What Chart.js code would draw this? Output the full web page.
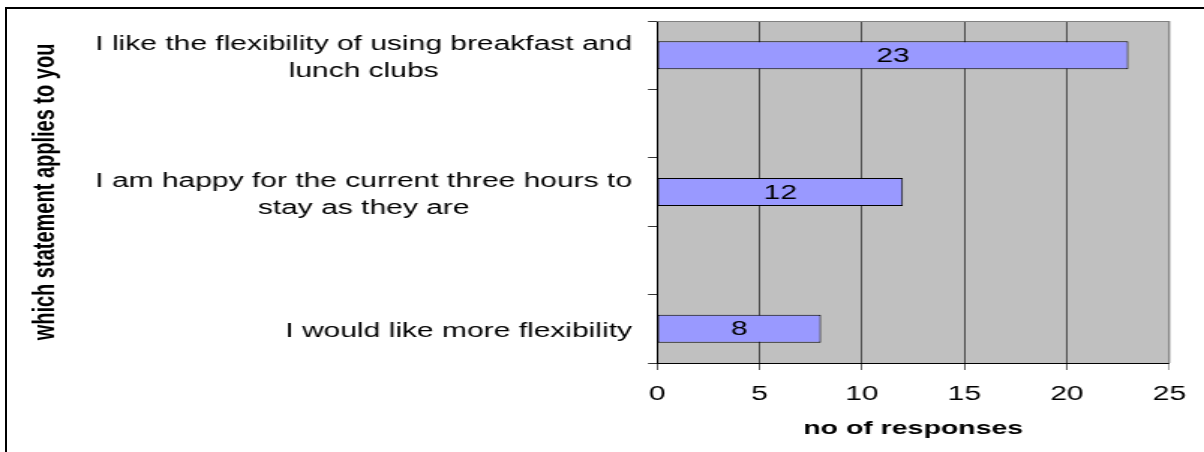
<!DOCTYPE html>
<html><head><meta charset="utf-8">
<script src="https://cdn.jsdelivr.net/npm/chart.js@4.4.1/dist/chart.umd.min.js"></script>
<style>
html,body{margin:0;padding:0;background:#fff;overflow:hidden}
#wrap{position:relative;width:1204px;height:452px;overflow:hidden}
#c{position:absolute;left:0;top:0;width:1204px;height:452px}
#frame{position:absolute;left:5px;top:7px;width:1300px;height:600px;border-left:2px solid #000;border-top:2px solid #000;pointer-events:none}
</style></head><body>
<div id="wrap"><canvas id="c" width="803" height="452" style="width:1204px;height:452px"></canvas><div id="frame"></div></div>
<script>
// ---- data ----
const categories = [
  ["I like the flexibility of using breakfast and", "lunch clubs"],
  ["I am happy for the current three hours to", "stay as they are"],
  ["I would like more flexibility"]
];
const responses = [23, 12, 8];
const xTicks = [0, 5, 10, 15, 20, 25];
const xTitle = 'no of responses';
const yTitle = 'which statement applies to you';

// the original leaves an empty slot between categories
const labels = [];
const values = [];
categories.forEach((c, i) => {
  if (i > 0) { labels.push(''); values.push(null); }
  labels.push(c); values.push(responses[i]);
});

const FONT = "'Liberation Sans', Arial, sans-serif";
Chart.defaults.font.family = FONT;
Chart.defaults.color = '#000';

const plotArea = {
  id: 'plotArea',
  beforeDraw(chart) {
    const {ctx, chartArea: a} = chart;
    ctx.save();
    ctx.fillStyle = '#C0C0C0';
    ctx.fillRect(a.left, a.top, a.right - a.left, a.bottom - a.top);
    ctx.restore();
  },
  beforeDatasetsDraw(chart) {
    const {ctx, chartArea: a} = chart;
    ctx.save();
    ctx.strokeStyle = '#808080';
    ctx.lineWidth = 1;
    ctx.beginPath();
    ctx.moveTo(a.left, a.top + 0.5);
    ctx.lineTo(a.right, a.top + 0.5);
    ctx.moveTo(a.right, a.top);
    ctx.lineTo(a.right, a.bottom);
    ctx.stroke();
    ctx.restore();
  }
};

const barValues = {
  id: 'barValues',
  afterDatasetsDraw(chart) {
    const {ctx} = chart;
    const meta = chart.getDatasetMeta(0);
    ctx.save();
    ctx.font = '20px ' + FONT;
    ctx.fillStyle = '#000';
    ctx.textAlign = 'center';
    ctx.textBaseline = 'middle';
    meta.data.forEach((bar, i) => {
      const v = chart.data.datasets[0].data[i];
      if (v == null) return;
      ctx.fillText(String(v), (bar.x + bar.base) / 2, bar.y + 1);
    });
    ctx.restore();
  }
};

const catLabels = {
  id: 'catLabels',
  afterDraw(chart) {
    const {ctx, chartArea: a} = chart;
    const ys = chart.scales.y;
    const right = a.left - 16.7;
    ctx.save();
    ctx.font = '20px ' + FONT;
    ctx.fillStyle = '#000';
    ctx.textAlign = 'center';
    ctx.textBaseline = 'alphabetic';
    chart.data.labels.forEach((lab, i) => {
      if (!lab || (Array.isArray(lab) && !lab.length)) return;
      const lines = Array.isArray(lab) ? lab : [lab];
      const w = Math.max(...lines.map(l => ctx.measureText(l).width));
      const cx = right - w / 2;
      const c = ys.getPixelForTick(i);
      const first = c + 8 - (lines.length - 1) * 13;
      lines.forEach((l, j) => ctx.fillText(l, cx, first + j * 26.5));
    });
    ctx.restore();
  }
};

new Chart(document.getElementById('c'), {
  type: 'bar',
  data: {
    labels: labels,
    datasets: [{
      data: values,
      backgroundColor: '#9999FF',
      borderColor: '#000',
      borderWidth: 1,
      borderSkipped: false,
      barPercentage: 0.41,
      categoryPercentage: 1
    }]
  },
  options: {
    indexAxis: 'y',
    responsive: false,
    animation: false,
    devicePixelRatio: 1,
    layout: {padding: {left: 0, top: 21, right: 20.7, bottom: 0}},
    plugins: {legend: {display: false}, tooltip: {enabled: false}, title: {display: false}},
    scales: {
      x: {
        min: xTicks[0],
        max: xTicks[xTicks.length - 1],
        ticks: {stepSize: xTicks[1] - xTicks[0], color: '#000', font: {size: 20}, padding: 12, maxRotation: 0},
        grid: {
          color: (ctx) => (ctx.tick && ctx.tick.value === xTicks[xTicks.length - 1]) ? '#808080' : '#1a1a1a',
          lineWidth: 0.7,
          tickLength: 7,
          drawTicks: true
        },
        border: {display: true, color: '#000', width: 1},
        title: {display: true, text: xTitle, color: '#000', font: {size: 19, weight: 'bold'}, padding: {top: 0, bottom: 12}},
        afterFit(s) { s.height = 89; }
      },
      y: {
        type: 'category',
        offset: true,
        grid: {offset: true, drawOnChartArea: false, drawTicks: true, tickLength: 6, color: '#000', lineWidth: 0.8},
        border: {display: true, color: '#000', width: 1},
        ticks: {color: 'rgba(0,0,0,0)', autoSkip: false, font: {size: 20}},
        title: {display: true, text: yTitle, color: '#000', font: {size: 20, weight: 'bold'}, padding: {top: 18.5, bottom: 0}},
        afterFit(s) { s.width = 438.2; }
      }
    }
  },
  plugins: [plotArea, barValues, catLabels]
});
</script>
</body></html>
